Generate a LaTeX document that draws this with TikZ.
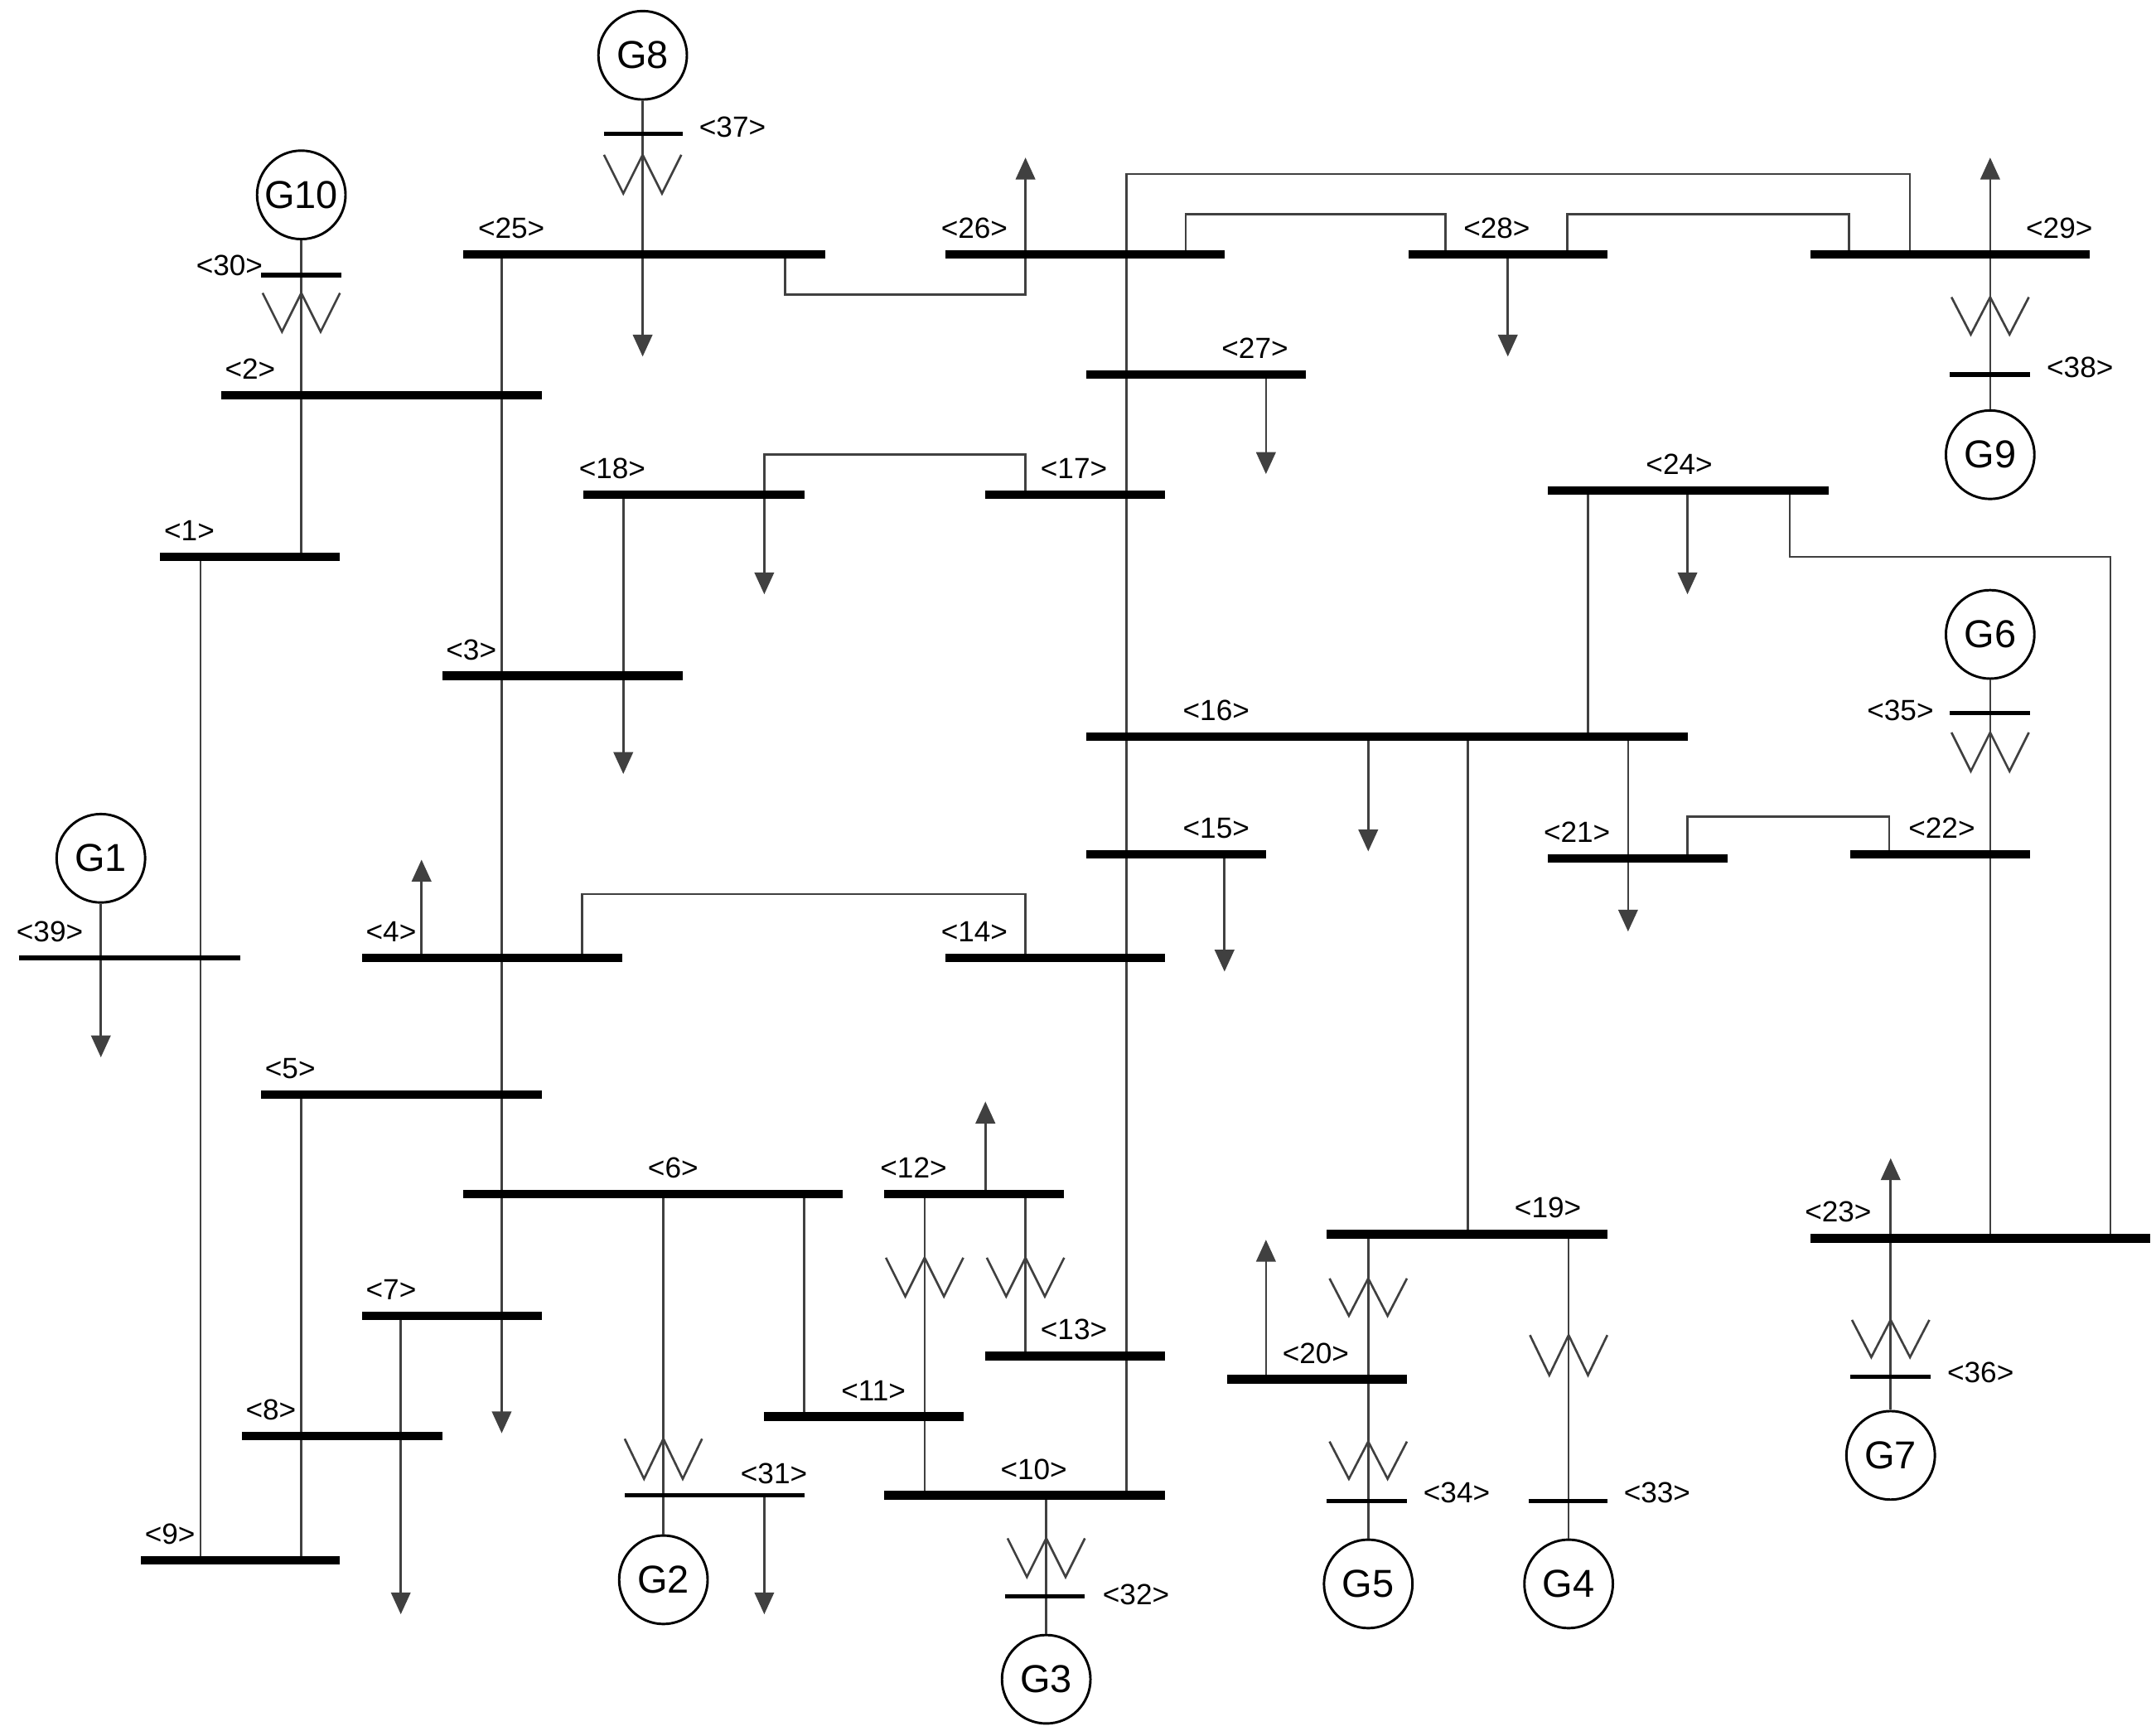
\documentclass[tikz,border=0pt]{standalone}
\usepackage{fontspec}
\setmainfont{Liberation Sans}
\usetikzlibrary{arrows.meta}
\begin{document}
\begin{tikzpicture}[x=0.01cm,y=-0.01cm,
  ln/.style={line width=0.45pt,draw=black!75},
  bus/.style={line width=1.8pt},
  tbus/.style={line width=0.9pt},
  ld/.style={ln,-{Triangle[length=4.5pt,width=4pt]}},
  gen/.style={circle,draw,line width=0.5pt,minimum size=0.64cm,inner sep=0pt,font=\fontsize{8}{9}\selectfont},
  lb/.style={font=\fontsize{6}{7}\selectfont,inner sep=0pt}]
\useasboundingbox (0,0) rectangle (1560,1252);
\newcommand\xf[3]{\draw[ln] (#1-28,#2)--(#1-14,#3)--(#1,#2)--(#1+14,#3)--(#1+28,#2);}
\newcommand\bs[5]{\draw[bus] (#2,#1)--(#3,#1); \node[lb] at (#4,#1-19) {<#5>};}
% generators
\node[gen] (G8) at (465,40) {G8};
\node[gen] (G10) at (218,141) {G10};
\node[gen] (G9) at (1440,329) {G9};
\node[gen] (G6) at (1440,459) {G6};
\node[gen] (G1) at (73,621) {G1};
\node[gen] (G2) at (480,1143) {G2};
\node[gen] (G3) at (757,1215) {G3};
\node[gen] (G5) at (990,1146) {G5};
\node[gen] (G4) at (1135,1146) {G4};
\node[gen] (G7) at (1368,1053) {G7};
% lines
\draw[ln] (G10.south)--(218,403);
\xf{218}{212}{240}
\draw[ld] (G8.south)--(465,258);
\xf{465}{112}{140}
\draw[ld] (363,184)--(363,1037);
\draw[ln] (568,184)--(568,213)--(742,213)--(742,184);
\draw[ld] (742,213)--(742,114);
\draw[ln] (815,1082)--(815,126)--(1382,126)--(1382,184);
\draw[ln] (858,184)--(858,155)--(1046,155)--(1046,184);
\draw[ln] (1134,184)--(1134,155)--(1338,155)--(1338,184);
\draw[ld] (1091,184)--(1091,258);
\draw[ld] (1440,184)--(1440,114);
\draw[ln] (1440,184)--(G9.north);
\xf{1440}{215}{242}
\draw[ld] (916,271)--(916,343);
\draw[ln] (553,358)--(553,329)--(742,329)--(742,358);
\draw[ld] (553,358)--(553,430);
\draw[ld] (451,358)--(451,560);
\draw[ln] (1149,355)--(1149,533);
\draw[ld] (1221,355)--(1221,430);
\draw[ln] (1295,355)--(1295,403)--(1527,403)--(1527,896);
\draw[ld] (990,533)--(990,616);
\draw[ln] (1062,533)--(1062,893);
\draw[ld] (1178,533)--(1178,674);
\draw[ln] (1221,621)--(1221,591)--(1367,591)--(1367,618);
\draw[ln] (G6.south)--(1440,896);
\xf{1440}{530}{558}
\draw[ld] (886,618)--(886,703);
\draw[ln] (145,403)--(145,1129);
\draw[ld] (G1.south)--(73,765);
\draw[ld] (305,693)--(305,622);
\draw[ln] (421,693)--(421,647)--(742,647)--(742,693);
\draw[ln] (218,792)--(218,1129);
\draw[ln] (480,864)--(G2.north);
\xf{480}{1041}{1070}
\draw[ln] (582,864)--(582,1025);
\draw[ld] (553,1082)--(553,1168);
\draw[ld] (290,952)--(290,1168);
\draw[ld] (713,864)--(713,797);
\draw[ln] (669,864)--(669,1082);
\xf{669}{910}{938}
\draw[ln] (742,864)--(742,981);
\xf{742}{910}{938}
\draw[ln] (757,1082)--(G3.north);
\xf{757}{1113}{1141}
\draw[ld] (916,998)--(916,897);
\draw[ln] (990,893)--(G5.north);
\xf{990}{925}{952}
\xf{990}{1043}{1070}
\draw[ln] (1135,893)--(G4.north);
\xf{1135}{966}{995}
\draw[ld] (1368,896)--(1368,838);
\draw[ln] (1368,896)--(G7.north);
\xf{1368}{955}{982}
% buses
\bs{184}{335}{597}{370}{25}
\bs{184}{684}{886}{705}{26}
\bs{184}{1019}{1163}{1083}{28}
\bs{184}{1310}{1512}{1490}{29}
\bs{286}{160}{392}{181}{2}
\bs{271}{786}{945}{908}{27}
\bs{358}{422}{582}{443}{18}
\bs{358}{713}{843}{777}{17}
\bs{355}{1120}{1323}{1215}{24}
\bs{403}{116}{246}{137}{1}
\bs{489}{320}{494}{341}{3}
\bs{533}{786}{1221}{880}{16}
\bs{618}{786}{916}{880}{15}
\bs{621}{1120}{1250}{1141}{21}
\bs{618}{1339}{1469}{1405}{22}
\bs{693}{262}{450}{283}{4}
\bs{693}{684}{843}{705}{14}
\bs{792}{189}{392}{210}{5}
\bs{864}{335}{610}{487}{6}
\bs{864}{640}{770}{661}{12}
\bs{893}{960}{1163}{1120}{19}
\bs{896}{1310}{1556}{1330}{23}
\bs{952}{262}{392}{283}{7}
\bs{981}{713}{843}{777}{13}
\bs{998}{888}{1018}{952}{20}
\bs{1025}{553}{697}{632}{11}
\bs{1039}{175}{320}{196}{8}
\bs{1082}{640}{843}{748}{10}
\bs{1129}{102}{246}{123}{9}
% thin buses
\draw[tbus] (14,693)--(174,693); \node[lb] at (36,674) {<39>};
\draw[tbus] (189,199)--(247,199); \node[lb] at (166,192) {<30>};
\draw[tbus] (437,97)--(494,97); \node[lb] at (530,92) {<37>};
\draw[tbus] (1411,271)--(1469,271); \node[lb] at (1505,266) {<38>};
\draw[tbus] (1411,516)--(1469,516); \node[lb] at (1375,514) {<35>};
\draw[tbus] (452,1082)--(582,1082); \node[lb] at (560,1066) {<31>};
\draw[tbus] (727,1155)--(785,1155); \node[lb] at (822,1154) {<32>};
\draw[tbus] (960,1086)--(1018,1086); \node[lb] at (1054,1080) {<34>};
\draw[tbus] (1106,1086)--(1163,1086); \node[lb] at (1199,1080) {<33>};
\draw[tbus] (1339,996)--(1397,996); \node[lb] at (1433,993) {<36>};
\end{tikzpicture}
\end{document}
